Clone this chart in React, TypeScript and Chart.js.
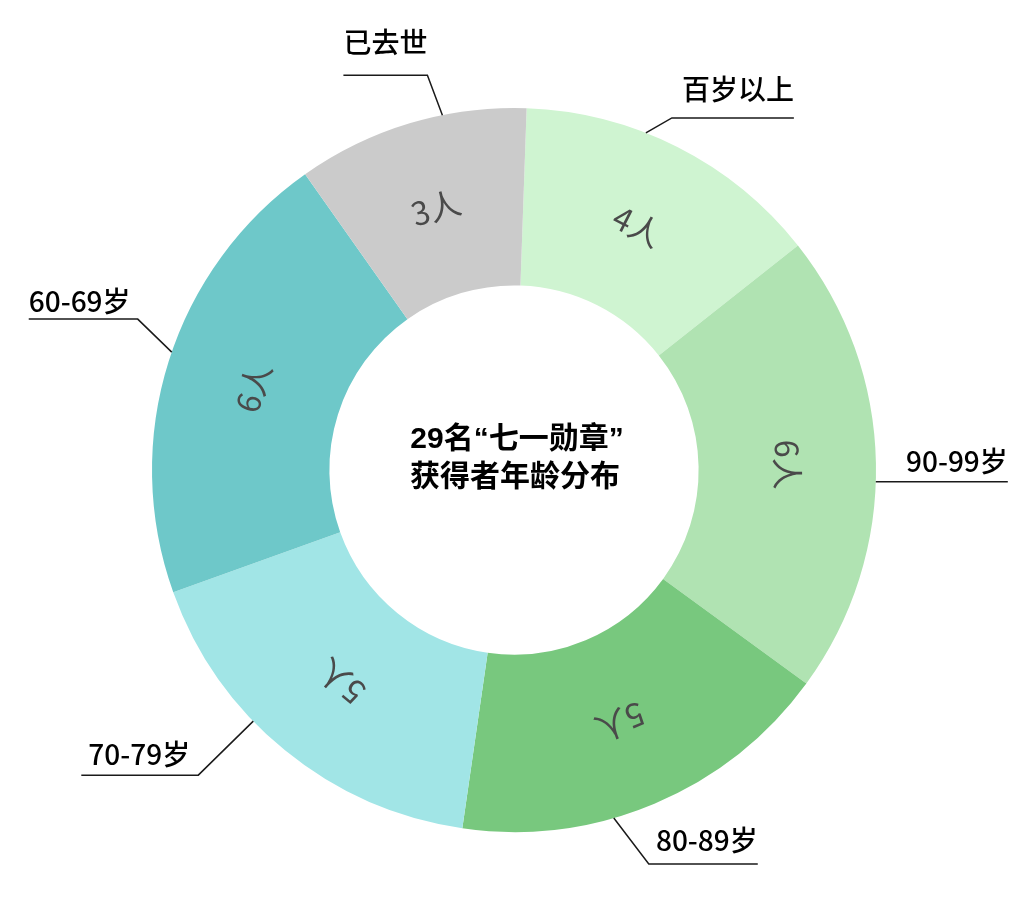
import { useEffect, useRef } from 'react'
import { Chart, registerables } from 'chart.js'

Chart.register(...registerables)

const ageGroups = ['百岁以上', '90-99岁', '80-89岁', '70-79岁', '60-69岁', '已去世']
const medalists = [4, 6, 5, 5, 6, 3]
const unit = '人'
const sliceColors = ['#cff4d1', '#b0e3b2', '#78c87e', '#a1e5e6', '#6ec8c9', '#cbcbcb']
const titleLines = ['29名“七一勋章”', '获得者年龄分布']

// callout layout per slice: where on the arc the line starts (0..1), elbow offset,
// horizontal run (negative = to the left), gap from line to text baseline, text inset
const callouts = [
  { at: 0.39, dx: 26, dy: -15, run: 122, gap: 18, pad: 0 },
  { at: 0.54, dx: 0, dy: 0, run: 132, gap: 10, pad: 0 },
  { at: 0.61, dx: 35, dy: 46, run: 109, gap: 13, pad: 0 },
  { at: 0.61, dx: -55, dy: 54, run: -117, gap: 10, pad: 7 },
  { at: 0.52, dx: -34, dy: -33, run: -109, gap: 7, pad: 0 },
  { at: 0.64, dx: -15, dy: -40, run: -84, gap: 22, pad: 0 },
]

const FONT = '"Noto Sans CJK SC", "Noto Sans", sans-serif'
const TITLE_FONT = '"Liberation Sans", "Noto Sans CJK SC", sans-serif'

const calloutPlugin = {
  id: 'callouts',
  afterDatasetsDraw(chart: any) {
    const { ctx } = chart
    const meta = chart.getDatasetMeta(0)
    const values = chart.data.datasets[0].data as number[]
    const labels = chart.data.labels as string[]
    let cx = 0, cy = 0
    meta.data.forEach((arc: any, i: number) => {
      const { x, y, startAngle, endAngle, innerRadius, outerRadius } = arc.getProps(
        ['x', 'y', 'startAngle', 'endAngle', 'innerRadius', 'outerRadius'], true)
      cx = x; cy = y
      const mid = (startAngle + endAngle) / 2
      const r = (innerRadius + outerRadius) / 2

      // value inside the ring, turned along the arc
      ctx.save()
      ctx.translate(x + Math.cos(mid) * r, y + Math.sin(mid) * r)
      ctx.rotate(mid + Math.PI / 2)
      ctx.font = `32px ${FONT}`
      ctx.fillStyle = '#4a4a4a'
      ctx.textAlign = 'center'
      ctx.textBaseline = 'middle'
      ctx.fillText(`${values[i]}${unit}`, 0, 0)
      ctx.restore()

      // leader line + category name
      const c = callouts[i]
      const a = startAngle + (endAngle - startAngle) * c.at
      const ax = x + Math.cos(a) * outerRadius
      const ay = y + Math.sin(a) * outerRadius
      const ex = ax + c.dx
      const ey = ay + c.dy
      const lx = ex + c.run
      ctx.save()
      ctx.strokeStyle = '#1a1a1a'
      ctx.lineWidth = 1.5
      ctx.beginPath()
      ctx.moveTo(ax, ay)
      ctx.lineTo(ex, ey)
      ctx.lineTo(lx, ey)
      ctx.stroke()
      ctx.font = `500 28px ${FONT}`
      ctx.fillStyle = '#000'
      ctx.textBaseline = 'alphabetic'
      if (c.run > 0) {
        ctx.textAlign = 'right'
        ctx.fillText(labels[i], lx - c.pad, ey - c.gap)
      } else {
        ctx.textAlign = 'left'
        ctx.fillText(labels[i], lx + c.pad, ey - c.gap)
      }
      ctx.restore()
    })

    // title in the hole
    ctx.save()
    ctx.font = `bold 30px ${TITLE_FONT}`
    ctx.fillStyle = '#000'
    ctx.textAlign = 'center'
    ctx.textBaseline = 'middle'
    ctx.fillText(titleLines[0], cx + 3, cy - 30)
    ctx.fillText(titleLines[1], cx + 1, cy + 8)
    ctx.restore()
  },
}

const App = () => {
  const canvasRef = useRef<HTMLCanvasElement>(null)
  const chartRef = useRef<Chart | null>(null)

  useEffect(() => {
    document.body.style.margin = '0'
    if (!canvasRef.current) return
    if (chartRef.current) chartRef.current.destroy()
    chartRef.current = new Chart(canvasRef.current, {
      type: 'doughnut',
      data: {
        labels: ageGroups,
        datasets: [{ data: medalists, backgroundColor: sliceColors, borderWidth: 0 }],
      },
      options: {
        responsive: true, maintainAspectRatio: false, animation: false,
        rotation: 2, cutout: '51%',
        layout: { padding: { top: 108, bottom: 77, left: 152, right: 149 } },
        plugins: { legend: { display: false }, tooltip: { enabled: false } },
      },
      plugins: [calloutPlugin],
    })
    return () => { chartRef.current?.destroy(); chartRef.current = null }
  }, [])

  return (
    <div style={{ position: 'relative', width: 1025, height: 909, background: '#fff' }}>
      <canvas ref={canvasRef} />
    </div>
  )
}

export default App
